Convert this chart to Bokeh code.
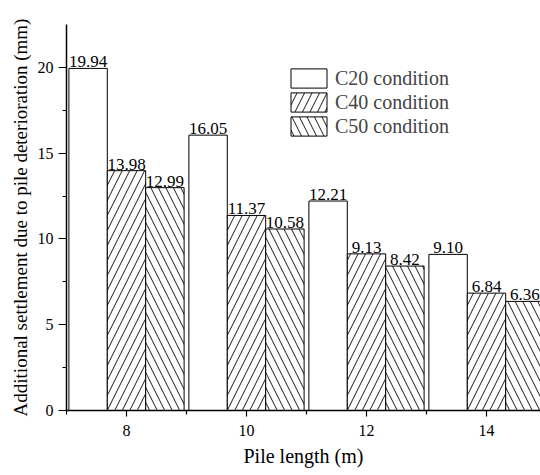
from bokeh.plotting import figure
from bokeh.models import ColumnDataSource, Range1d, FixedTicker, Legend, LegendItem
from bokeh.transform import dodge
from bokeh.core.properties import value
from bokeh.embed import file_html
from bokeh.resources import INLINE

pile_length = [8, 10, 12, 14]
c20 = [19.94, 16.05, 12.21, 9.10]
c40 = [13.98, 11.37, 9.13, 6.84]
c50 = [12.99, 10.58, 8.42, 6.36]
series_names = ["C20 condition", "C40 condition", "C50 condition"]
x_ticks = [8, 10, 12, 14]
y_ticks = [0, 5, 10, 15, 20]

FONT = "'Liberation Serif', 'Times New Roman', serif"
BAR_W = 0.64

src = ColumnDataSource(dict(
    x=pile_length, c20=c20, c40=c40, c50=c50,
    t20=[f"{v:.2f}" for v in c20],
    t40=[f"{v:.2f}" for v in c40],
    t50=[f"{v:.2f}" for v in c50],
))

p = figure(width=540, height=475, output_backend="svg", toolbar_location=None,
           x_range=Range1d(7, 14.9), y_range=Range1d(0, 22.5),
           min_border_left=66, min_border_right=0, min_border_top=24, min_border_bottom=65)
p.outline_line_color = None
p.grid.visible = False
p.background_fill_color = "white"
p.border_fill_color = "white"

styles = [
    ("c20", "t20", -BAR_W, None),
    ("c40", "t40", 0.0, "/"),
    ("c50", "t50", BAR_W, "\\"),
]
renderers = []
for col, tcol, off, hatch in styles:
    kw = dict(x=dodge("x", off, range=p.x_range), top=col, width=BAR_W, source=src,
              fill_color="white", line_color="black", line_width=1)
    if hatch:
        kw.update(hatch_pattern=hatch, hatch_color="black", hatch_scale=15, hatch_weight=0.9)
    r = p.vbar(**kw)
    renderers.append(r)
    p.text(x=dodge("x", off, range=p.x_range), y=col, text=tcol, source=src,
           text_font=value(FONT), text_font_size="17px", text_align="center",
           text_baseline="bottom", y_offset=-1, text_color="black")

legend = Legend(items=[LegendItem(label=n, renderers=[r]) for n, r in zip(series_names, renderers)],
                location=(220, 272), padding=0, margin=0, spacing=0,
                glyph_width=45, glyph_height=24, label_height=24, label_standoff=4,
                label_text_font=FONT, label_text_font_size="20px",
                border_line_alpha=0, background_fill_alpha=0)
p.add_layout(legend, "center")

for ax in (p.xaxis[0], p.yaxis[0]):
    ax.axis_line_color = "black"
    ax.axis_line_width = 1.5
    ax.major_tick_line_color = "black"
    ax.minor_tick_line_color = "black"
    ax.major_tick_line_width = 1.2
    ax.minor_tick_line_width = 1.2
    ax.major_tick_in = 0
    ax.minor_tick_in = 0
    ax.major_label_text_font = FONT
    ax.major_label_text_font_size = "16px"
    ax.major_label_text_color = "black"
    ax.axis_label_text_font = FONT
    ax.axis_label_text_font_style = "normal"
    ax.axis_label_text_color = "black"

p.xaxis.ticker = FixedTicker(ticks=x_ticks, minor_ticks=[7, 9, 11, 13])
p.xaxis.major_tick_out = 6
p.xaxis.minor_tick_out = 4
p.xaxis.major_label_standoff = 8
p.xaxis.axis_label = "Pile length (m)"
p.xaxis.axis_label_text_font_size = "20px"
p.xaxis.axis_label_standoff = 6

p.yaxis.ticker = FixedTicker(ticks=y_ticks, minor_ticks=[2.5, 7.5, 12.5, 17.5])
p.yaxis.major_tick_out = 8
p.yaxis.minor_tick_out = 4
p.yaxis.major_label_standoff = 5
p.yaxis.axis_label = "Additional settlement due to pile deterioration (mm)"
p.yaxis.axis_label_text_font_size = "19px"
p.yaxis.axis_label_standoff = 4

open("out.html", "w").write(file_html(p, INLINE))
